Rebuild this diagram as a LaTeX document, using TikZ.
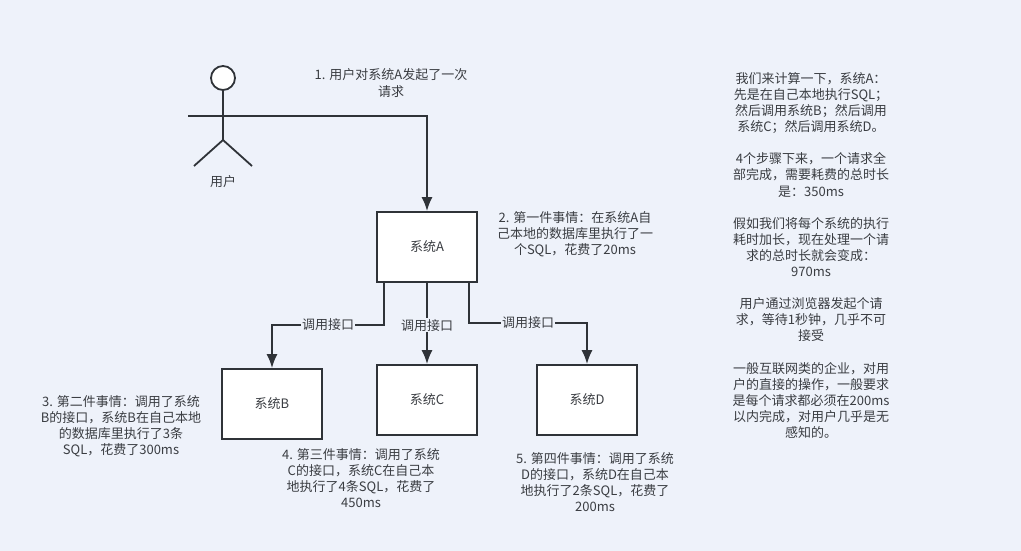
\documentclass[tikz,border=0pt]{standalone}
\usepackage{fontspec}
\setmainfont{Noto Sans CJK SC}
\usepackage{xcolor}
\usetikzlibrary{arrows.meta}
\definecolor{pagebg}{HTML}{EEF2FA}
\definecolor{inkline}{HTML}{2F3338}
\definecolor{inktext}{HTML}{3A3D42}
\tikzset{
  sysbox/.style={draw=inkline, line width=1.8pt, fill=white, minimum width=100pt, minimum height=70pt, inner sep=0pt, text=inktext, font=\fontsize{13}{16}\selectfont},
  note/.style={align=center, inner sep=0pt, text=inktext, font=\fontsize{13}{16.1}\selectfont},
  wire/.style={draw=inkline, line width=1.8pt, -{Latex[length=14pt,width=11pt]}},
  limb/.style={draw=inkline, line width=1.8pt},
  wirelabel/.style={fill=pagebg, inner sep=1pt, text=inktext, font=\fontsize{13}{16}\selectfont}
}
\begin{document}
\begin{tikzpicture}[x=1pt, y=-1pt]
    \path[use as bounding box, fill=pagebg] (0, 0) rectangle (1021, 551);

% user figure
\node [limb, shape=circle, fill=white, minimum size=24pt, inner sep=0pt] (head) at (223, 78) {};
\coordinate (armL) at (188, 116);
\coordinate (armR) at (258, 116);
\coordinate (hip) at (223, 140);
\coordinate (legL) at (194, 166);
\coordinate (legR) at (252, 166);
\draw[limb] (head) -- (hip);
\draw[limb] (armL) -- (armR);
\draw[limb] (legL) -- (hip) -- (legR);
\node [note] (userlabel) at (223, 182) {用户};

% systems
\node [sysbox] (sysA) at (427, 247) {系统A};
\foreach \n / \x / \y in {B/272/404, C/427/400, D/587/400}
  \node [sysbox] (sys\n) at (\x, \y) {系统\n};

\draw[wire] (armR) -- (427, 116) -- (sysA);
\draw[wire] ([xshift=-43pt]sysA.south) |- node [wirelabel, pos=0.75] (callB) {调用接口} (272, 325) -- (sysB);
\draw[wire] (sysA) -- node [wirelabel, pos=0.52] (callC) {调用接口} (sysC);
\draw[wire] ([xshift=42pt]sysA.south) |- node [wirelabel, pos=0.75] (callD) {调用接口} (587, 323) -- (sysD);

% step notes
\node [note] (step1) at (391, 83) {1. 用户对系统A发起了一次\\请求};
\node [note] (step2) at (575, 234) {2. 第一件事情：在系统A自\\己本地的数据库里执行了一\\个SQL，花费了20ms};
\node [note] (step3) at (121, 426) {3. 第二件事情：调用了系统\\B的接口，系统B在自己本地\\的数据库里执行了3条\\SQL，花费了300ms};
\node [note] (step4) at (361, 478) {4. 第三件事情：调用了系统\\C的接口，系统C在自己本\\地执行了4条SQL，花费了\\450ms};
\node [note] (step5) at (595, 482) {5. 第四件事情：调用了系统\\D的接口，系统D在自己本\\地执行了2条SQL，花费了\\200ms};

\node [note] (summary) at (811, 255.5) {我们来计算一下，系统A：\\先是在自己本地执行SQL；\\然后调用系统B；然后调用\\系统C；然后调用系统D。\\[16.1pt]
4个步骤下来，一个请求全\\部完成，需要耗费的总时长\\是：350ms\\[16.1pt]
假如我们将每个系统的执行\\耗时加长，现在处理一个请\\求的总时长就会变成：\\970ms\\[16.1pt]
用户通过浏览器发起个请\\求，等待1秒钟，几乎不可\\接受\\[16.1pt]
一般互联网类的企业，对用\\户的直接的操作，一般要求\\是每个请求都必须在200ms\\以内完成，对用户几乎是无\\感知的。};
\end{tikzpicture}
\end{document}
